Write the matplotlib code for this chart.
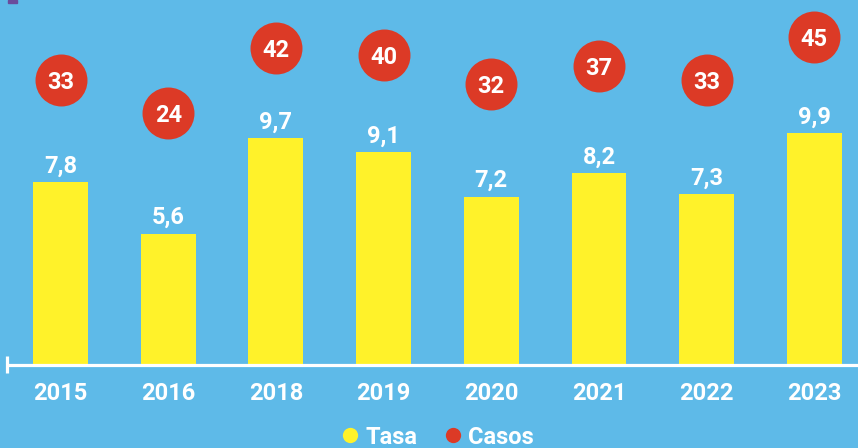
import matplotlib
matplotlib.use("Agg")
import matplotlib.pyplot as plt
from matplotlib.lines import Line2D
from matplotlib.patches import Rectangle

plt.rcParams['font.family'] = ['Roboto', 'DejaVu Sans']

years = ['2015', '2016', '2018', '2019', '2020', '2021', '2022', '2023']
tasa = [7.8, 5.6, 9.7, 9.1, 7.2, 8.2, 7.3, 9.9]
casos = [33, 24, 42, 40, 32, 37, 33, 45]

BG = '#5EBAE8'
YELLOW = '#FFF22A'
RED = '#DC3A26'
WHITE = '#FFFFFF'
W = 'bold'

fig = plt.figure(figsize=(8.58, 4.48), dpi=100, facecolor=BG)
ax = fig.add_axes([7 / 858, 83 / 448, 851 / 858, 365 / 448])
ax.set_facecolor(BG)

x = list(range(len(years)))
ax.bar(x, tasa, width=0.51, color=YELLOW, zorder=2)
ax.set_xlim(-0.497, 7.405)
ax.set_ylim(0, 15.6)

for xi, v in zip(x, tasa):
    ax.annotate(f"{v:.1f}".replace('.', ','), (xi, v), xytext=(0, 7),
                textcoords='offset points', ha='center', va='baseline',
                color=WHITE, fontsize=17, fontweight=W)

# casos en eje secundario
ax2 = ax.twinx()
ax2.set_ylim(-45.6, 55.2)
ax2.scatter(x, casos, s=1400, color=RED, zorder=3, linewidths=0)
for xi, c in zip(x, casos):
    ax2.text(xi, c, str(c), ha='center', va='center_baseline', color=WHITE,
             fontsize=17, fontweight=W, zorder=4)

for a in (ax, ax2):
    for s in a.spines.values():
        s.set_visible(False)
    a.set_yticks([])

ax.set_xticks(x)
ax.set_xticklabels(years, fontsize=17, fontweight=W, color=WHITE)
ax.tick_params(axis='x', length=0, pad=12)

# linea base y marca izquierda
ax.plot([0, 1], [0, 0], transform=ax.transAxes, color=WHITE, lw=2.3,
        clip_on=False, zorder=5, solid_capstyle='butt')
ax.plot([0, 0], [-0.022, 0.025], transform=ax.transAxes, color=WHITE, lw=2.3,
        clip_on=False, zorder=5, solid_capstyle='butt')

fig.patches.append(Rectangle((8 / 858, 445 / 448), 9 / 858, 3 / 448,
                             transform=fig.transFigure, color='#6A4C9C'))

handles = [
    Line2D([], [], marker='o', linestyle='none', markersize=11,
           markerfacecolor=YELLOW, markeredgecolor='none', label='Tasa'),
    Line2D([], [], marker='o', linestyle='none', markersize=11,
           markerfacecolor=RED, markeredgecolor='none', label='Casos'),
]
leg = fig.legend(handles=handles, loc='center', bbox_to_anchor=(436 / 858, 11 / 448),
                 ncol=2, frameon=False, handletextpad=0.15, columnspacing=1.0,
                 handlelength=1.0, prop={'size': 17, 'weight': W})
for t in leg.get_texts():
    t.set_color(WHITE)

fig.savefig('out.png', dpi=100, facecolor=BG)
